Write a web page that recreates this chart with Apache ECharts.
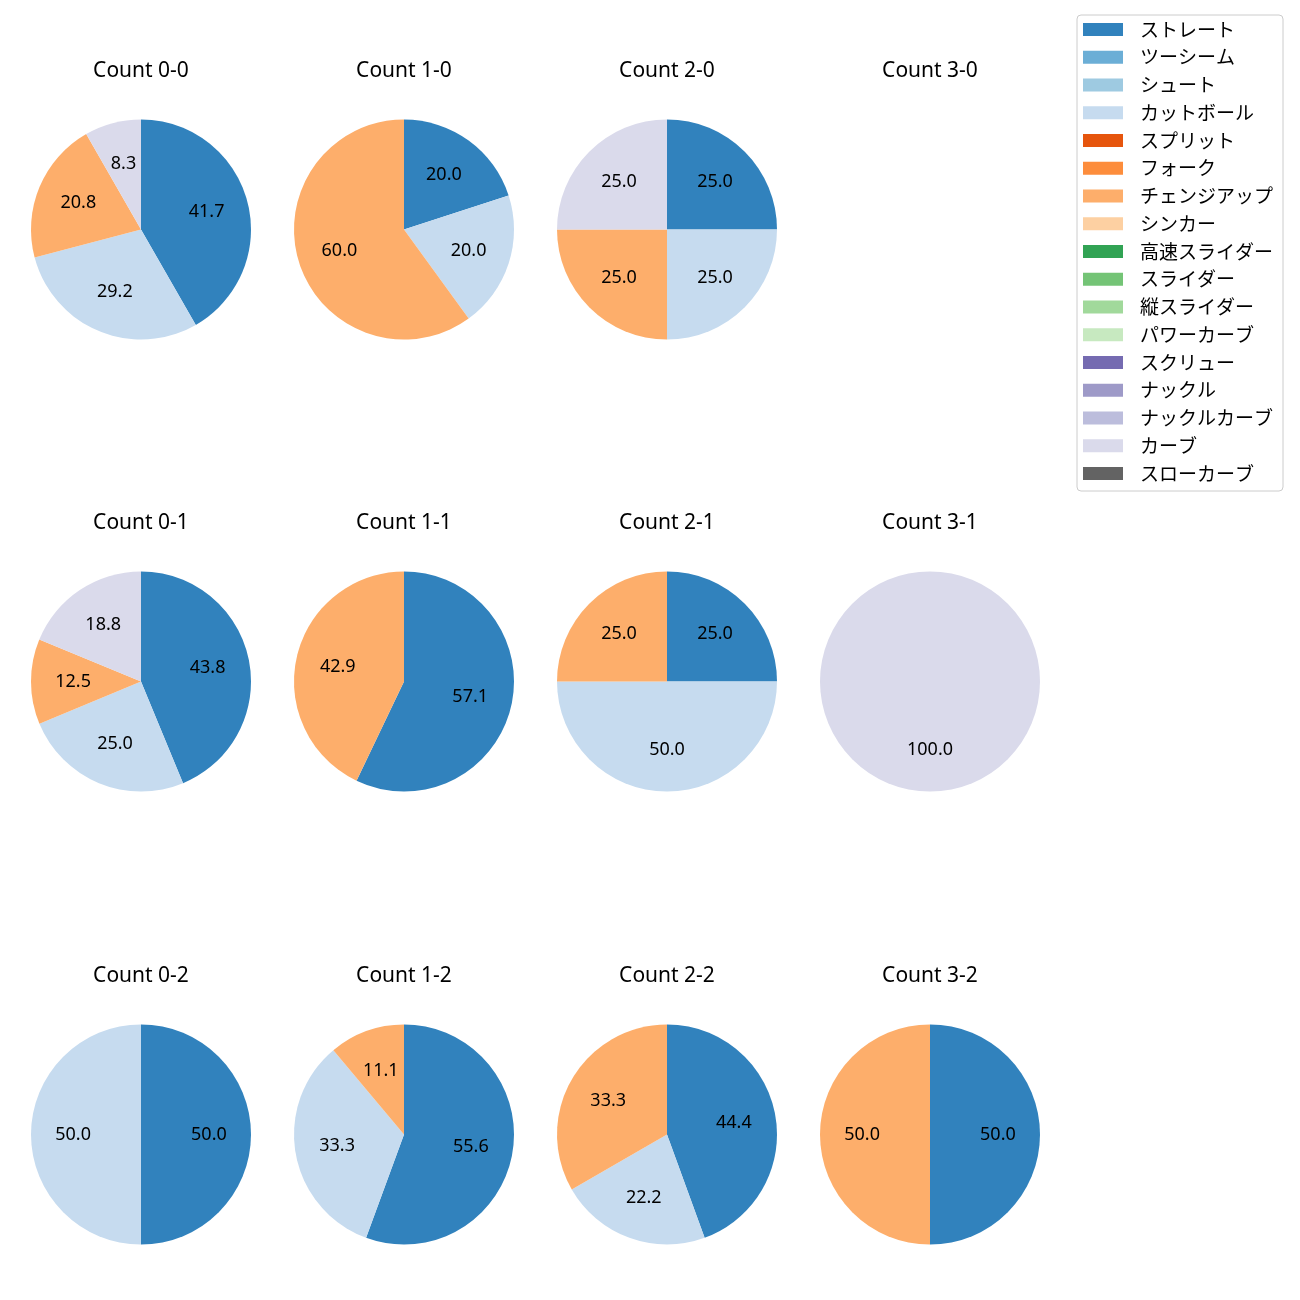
<!DOCTYPE html>
<html><head><meta charset="utf-8">
<script src="https://cdn.jsdelivr.net/npm/echarts@6/dist/echarts.min.js"></script>
<style>html,body{margin:0;padding:0;background:#fff}#c{width:1300px;height:1300px}</style>
</head><body><div id="c"></div>
<script>
const pitchTypes = ['ストレート','ツーシーム','シュート','カットボール','スプリット','フォーク','チェンジアップ','シンカー','高速スライダー','スライダー','縦スライダー','パワーカーブ','スクリュー','ナックル','ナックルカーブ','カーブ','スローカーブ'];
const pitchColors = ['#3182bd','#6baed6','#9ecae1','#c6dbef','#e6550d','#fd8d3c','#fdae6b','#fdd0a2','#31a354','#74c476','#a1d99b','#c7e9c0','#756bb1','#9e9ac8','#bcbddc','#dadaeb','#636363'];
const counts = ['0-0','1-0','2-0','3-0','0-1','1-1','2-1','3-1','0-2','1-2','2-2','3-2'];
// percentages per count, by pitch name
const count_0_0 = {'ストレート':41.7,'カットボール':29.2,'チェンジアップ':20.8,'カーブ':8.3};
const count_1_0 = {'ストレート':20.0,'カットボール':20.0,'チェンジアップ':60.0};
const count_2_0 = {'ストレート':25.0,'カットボール':25.0,'チェンジアップ':25.0,'カーブ':25.0};
const count_3_0 = {};
const count_0_1 = {'ストレート':43.8,'カットボール':25.0,'チェンジアップ':12.5,'カーブ':18.8};
const count_1_1 = {'ストレート':57.1,'チェンジアップ':42.9};
const count_2_1 = {'ストレート':25.0,'カットボール':50.0,'チェンジアップ':25.0};
const count_3_1 = {'カーブ':100.0};
const count_0_2 = {'ストレート':50.0,'カットボール':50.0};
const count_1_2 = {'ストレート':55.6,'カットボール':33.3,'チェンジアップ':11.1};
const count_2_2 = {'ストレート':44.4,'カットボール':22.2,'チェンジアップ':33.3};
const count_3_2 = {'ストレート':50.0,'チェンジアップ':50.0};
const allCounts = [count_0_0,count_1_0,count_2_0,count_3_0,count_0_1,count_1_1,count_2_1,count_3_1,count_0_2,count_1_2,count_2_2,count_3_2];

const colX = [141, 404, 667, 930];
const rowY = [229.5, 681.5, 1134.5];
const R = 110;
const LATIN = '"Noto Sans", "Noto Sans CJK JP", sans-serif';
const CJK = '"Noto Sans CJK JP", "Noto Sans", sans-serif';

const series = [];
// legend provider (invisible)
series.push({
  type:'pie', name:'legend', center:[-500,-500], radius:[0,0], silent:true,
  label:{show:false}, labelLine:{show:false},
  data: pitchTypes.map((n,i)=>({name:n, value:1, itemStyle:{color:pitchColors[i]}}))
});
const titles = [];
allCounts.forEach((d, k) => {
  const r = Math.floor(k/4), c = k%4;
  titles.push({text:'Count '+counts[k], left:colX[c], top:rowY[r]-160-10, textAlign:'center', padding:0,
    textStyle:{fontFamily:LATIN, fontSize:21, fontWeight:'normal', color:'#000', lineHeight:24}});
  const data = pitchTypes.filter(n => d[n] !== undefined).map(n => ({
    name:n, value:d[n], itemStyle:{color:pitchColors[pitchTypes.indexOf(n)]}
  }));
  if (!data.length) return;
  const common = {type:'pie', center:[colX[c], rowY[r]], startAngle:90, clockwise:true,
    animation:false, silent:true, avoidLabelOverlap:false, stillShowZeroSum:false,
    labelLine:{show:false}, emphasis:{disabled:true}};
  // wedges
  series.push(Object.assign({}, common, {
    radius:[0, R], itemStyle:{borderWidth:0}, label:{show:false}, data
  }));
  // transparent ring carrying labels at ~0.6R
  series.push(Object.assign({}, common, {
    radius:[0.18*R, R], itemStyle:{color:'rgba(0,0,0,0)', borderWidth:0},
    label:{show:true, position:'inside', formatter:p=>p.value.toFixed(1),
      fontFamily:LATIN, fontSize:18, color:'#000'},
    data: data.map(o => ({name:o.name, value:o.value, itemStyle:{color:'rgba(0,0,0,0)'}}))
  }));
});

const chart = echarts.init(document.getElementById('c'), null, {renderer:'canvas'});
chart.setOption({
  animation:false,
  title: titles,
  legend:{
    data: pitchTypes, orient:'vertical', left:1077, top:15, width:206,
    padding:[5,10,8,6], itemWidth:40, itemHeight:13, itemGap:8.75,
    borderColor:'#cccccc', borderWidth:1, borderRadius:4, backgroundColor:'#fff',
    icon:'rect', selectedMode:false,
    textStyle:{fontFamily:CJK, fontSize:19, color:'#000', padding:[0,0,0,12]}
  },
  series
});
</script></body></html>
